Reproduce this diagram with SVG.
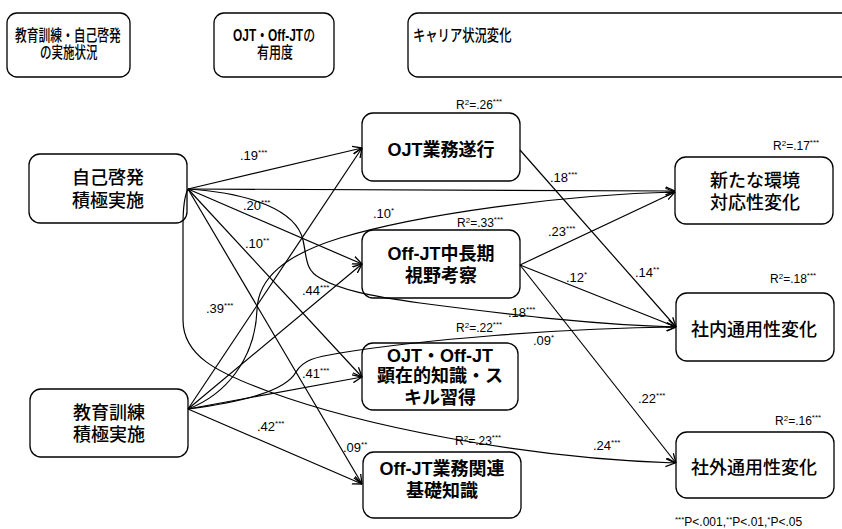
<svg xmlns="http://www.w3.org/2000/svg" width="842" height="529" viewBox="0 0 842 529">
  <style>
    .box { fill: #fff; stroke: #000; stroke-width: 1.3; }
    .ln { fill: none; stroke: #000; stroke-width: 1.2; marker-end: url(#ah); }
    .jp { font-family: "Liberation Sans", "Noto Sans CJK JP", sans-serif; font-size: 18px; text-anchor: middle; font-weight: 500; }
    .jb { font-weight: bold; }
    .hd { font-family: "Liberation Sans", "Noto Sans CJK JP", sans-serif; font-size: 16px; font-weight: 500; }
    .hb { font-weight: bold; }
    .c { font-family: "Liberation Sans", Arial, sans-serif; font-size: 13px; }
    .r { font-family: "Liberation Sans", Arial, sans-serif; font-size: 12px; }
    .s { font-size: 8px; }
  </style>
  <defs>
    <marker id="ah" viewBox="0 0 10 10" refX="9.5" refY="5" markerWidth="10" markerHeight="10" markerUnits="userSpaceOnUse" orient="auto">
      <path d="M0,1 L9.5,5 L0,9" fill="none" stroke="#000" stroke-width="1.3"/>
    </marker>
  </defs>
  <rect width="842" height="529" fill="#fff"/>

  <!-- column headers (condensed lettering) -->
  <g id="hdr-practice">
    <rect class="box" x="7" y="13" width="123" height="64" rx="10"/>
    <text class="hd" transform="translate(15,41) scale(0.736,1)">教育訓練・自己啓発</text>
    <text class="hd" transform="translate(40,58) scale(0.72,1)">の実施状況</text>
  </g>
  <g id="hdr-usefulness">
    <rect class="box" x="214" y="13" width="120" height="64" rx="10"/>
    <text class="hd" transform="translate(233,41) scale(0.745,1)"><tspan class="hb">OJT・Off-JT</tspan>の</text>
    <text class="hd" transform="translate(257,58) scale(0.75,1)">有用度</text>
  </g>
  <g id="hdr-career">
    <rect class="box" x="408" y="13" width="450" height="64" rx="10"/>
    <text class="hd" transform="translate(413,41) scale(0.77,1)">キャリア状況変化</text>
  </g>

  <!-- left column -->
  <g id="self-dev">
    <rect class="box" x="29" y="154" width="158" height="69" rx="11"/>
    <text class="jp" x="108" y="184">自己啓発</text>
    <text class="jp" x="108" y="207">積極実施</text>
  </g>
  <g id="training">
    <rect class="box" x="30" y="389" width="158" height="68" rx="11"/>
    <text class="jp" x="109" y="419">教育訓練</text>
    <text class="jp" x="109" y="441">積極実施</text>
  </g>

  <!-- middle column -->
  <g id="ojt-task">
    <rect class="box" x="362" y="113" width="158" height="68" rx="11"/>
    <text class="jp jb" x="441" y="156">OJT業務遂行</text>
  </g>
  <g id="offjt-long">
    <rect class="box" x="362" y="230" width="158" height="68" rx="11"/>
    <text class="jp jb" x="441" y="260">Off-JT中長期</text>
    <text class="jp jb" x="441" y="282">視野考察</text>
  </g>
  <g id="explicit-skill">
    <rect class="box" x="362" y="343" width="156" height="67" rx="11"/>
    <text class="jp jb" x="440" y="362">OJT・Off-JT</text>
    <text class="jp jb" x="440" y="382">顕在的知識・ス</text>
    <text class="jp jb" x="440" y="404">キル習得</text>
  </g>
  <g id="offjt-basic">
    <rect class="box" x="363" y="452" width="158" height="66" rx="11"/>
    <text class="jp jb" x="442" y="475">Off-JT業務関連</text>
    <text class="jp jb" x="442" y="497">基礎知識</text>
  </g>

  <!-- right column -->
  <g id="new-env">
    <rect class="box" x="675" y="157" width="158" height="67" rx="11"/>
    <text class="jp" x="755" y="187">新たな環境</text>
    <text class="jp" x="755" y="209">対応性変化</text>
  </g>
  <g id="internal">
    <rect class="box" x="676" y="293" width="158" height="68" rx="11"/>
    <text class="jp" x="754" y="336">社内通用性変化</text>
  </g>
  <g id="external">
    <rect class="box" x="676" y="432" width="158" height="66" rx="11"/>
    <text class="jp" x="754" y="474">社外通用性変化</text>
  </g>

  <!-- paths -->
  <g id="connectors">
    <path class="ln" d="M188,189 L362,148"/>
    <path class="ln" d="M188,189 L675,191"/>
    <path class="ln" d="M188,189 L362,264"/>
    <path class="ln" d="M188,189 L362,377"/>
    <path class="ln" d="M188,189 L362,484"/>
    <path class="ln" d="M188,189 C250,193 296,210 303,240 C307,258 305,270 320,278 C340,290 370,296 420,303 C520,316 600,325 676,327"/>
    <path class="ln" d="M188,189 C185,195 183,205 183,225 L183,320 C183,355 215,372 270,392 C360,425 520,458 675,463"/>
    <path class="ln" d="M188,409 L362,148"/>
    <path class="ln" d="M188,409 L362,264"/>
    <path class="ln" d="M188,409 L362,377"/>
    <path class="ln" d="M188,409 L362,484"/>
    <path class="ln" d="M188,409 C225,395 255,360 257,310 C258,278 285,255 340,238 C420,214 560,195 675,192"/>
    <path class="ln" d="M188,409 C240,402 285,392 296,372 C303,360 315,357 340,353 C420,340 560,328 676,327"/>
    <path class="ln" d="M520,150 L676,327"/>
    <path class="ln" d="M520,265 L675,192"/>
    <path class="ln" d="M520,265 L676,327"/>
    <path class="ln" d="M520,265 L676,463"/>
  </g>

  <!-- path coefficients -->
  <g id="coefficients" class="c">
    <text x="240" y="160">.19<tspan class="s" dy="-5">***</tspan></text>
    <text x="243" y="210">.20<tspan class="s" dy="-5">***</tspan></text>
    <text x="245" y="248">.10<tspan class="s" dy="-5">**</tspan></text>
    <text x="206" y="313">.39<tspan class="s" dy="-5">***</tspan></text>
    <text x="302" y="295">.44<tspan class="s" dy="-5">***</tspan></text>
    <text x="373" y="218">.10<tspan class="s" dy="-5">*</tspan></text>
    <text x="550" y="182">.18<tspan class="s" dy="-5">***</tspan></text>
    <text x="548" y="236">.23<tspan class="s" dy="-5">***</tspan></text>
    <text x="635" y="277">.14<tspan class="s" dy="-5">**</tspan></text>
    <text x="566" y="282">.12<tspan class="s" dy="-5">*</tspan></text>
    <text x="508" y="317">.18<tspan class="s" dy="-5">***</tspan></text>
    <text x="533" y="345">.09<tspan class="s" dy="-5">*</tspan></text>
    <text x="638" y="403">.22<tspan class="s" dy="-5">***</tspan></text>
    <text x="593" y="450">.24<tspan class="s" dy="-5">***</tspan></text>
    <text x="302" y="378">.41<tspan class="s" dy="-5">***</tspan></text>
    <text x="257" y="431">.42<tspan class="s" dy="-5">***</tspan></text>
    <text x="343" y="452">.09<tspan class="s" dy="-5">**</tspan></text>
  </g>

  <!-- explained variance -->
  <g id="r-squared" class="r">
    <text x="456" y="109">R<tspan class="s" dy="-4">2</tspan><tspan dy="4">=.26</tspan><tspan class="s" dy="-5">***</tspan></text>
    <text x="773" y="150">R<tspan class="s" dy="-4">2</tspan><tspan dy="4">=.17</tspan><tspan class="s" dy="-5">***</tspan></text>
    <text x="457" y="227">R<tspan class="s" dy="-4">2</tspan><tspan dy="4">=.33</tspan><tspan class="s" dy="-5">***</tspan></text>
    <text x="770" y="283">R<tspan class="s" dy="-4">2</tspan><tspan dy="4">=.18</tspan><tspan class="s" dy="-5">***</tspan></text>
    <text x="456" y="332">R<tspan class="s" dy="-4">2</tspan><tspan dy="4">=.22</tspan><tspan class="s" dy="-5">***</tspan></text>
    <text x="775" y="425">R<tspan class="s" dy="-4">2</tspan><tspan dy="4">=.16</tspan><tspan class="s" dy="-5">***</tspan></text>
    <text x="455" y="445">R<tspan class="s" dy="-4">2</tspan><tspan dy="4">=.23</tspan><tspan class="s" dy="-5">***</tspan></text>
  </g>

  <text class="r" x="675" y="526"><tspan class="s" dy="-4">***</tspan><tspan dy="4">P&lt;.001,</tspan><tspan class="s" dy="-4">**</tspan><tspan dy="4">P&lt;.01,</tspan><tspan class="s" dy="-4">*</tspan><tspan dy="4">P&lt;.05</tspan></text>
</svg>
